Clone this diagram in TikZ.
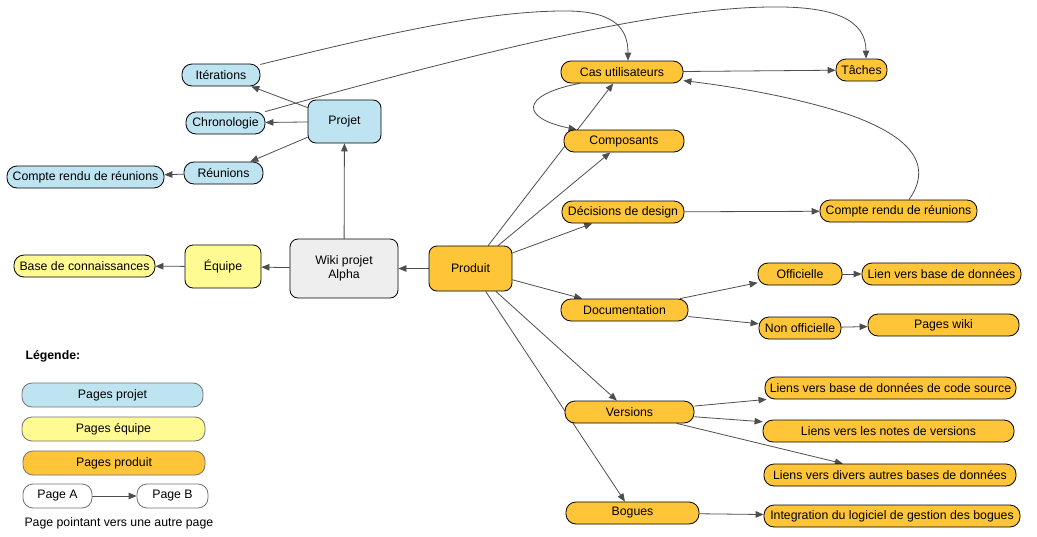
\documentclass[tikz,border=0pt]{standalone}
\usepackage{fontspec}
\setmainfont{Liberation Sans}
\usetikzlibrary{arrows.meta,calc}
\definecolor{pblue}{RGB}{190,228,242}
\definecolor{pyellow}{RGB}{255,250,145}
\definecolor{porange}{RGB}{255,197,57}
\definecolor{pgray}{RGB}{238,238,238}
\definecolor{linkc}{RGB}{78,78,78}
\definecolor{legborder}{RGB}{115,115,115}
\pgfdeclarelayer{back}
\pgfdeclarelayer{bg}
\pgfsetlayers{back,bg,main}
\begin{document}
\begin{tikzpicture}[x=1pt,y=-1pt,
  font=\fontsize{12.3}{14}\selectfont,
  pill/.style={draw=black, line width=0.8pt, rounded corners=10pt, inner sep=0pt, minimum height=22pt},
  bigbox/.style={draw=black, line width=0.8pt, rounded corners=8pt, inner sep=0pt, align=center},
  legbox/.style={draw=legborder, line width=0.8pt, rounded corners=10pt, inner sep=0pt, minimum height=24pt},
  link/.style={draw=linkc, line width=0.8pt, -{Triangle[length=8pt,width=6.5pt]}},
  bl/.style={fill=pblue}, ye/.style={fill=pyellow}, orr/.style={fill=porange}]
\begin{pgfonlayer}{back}
\fill[white] (0,0) rectangle (1037,536);
\end{pgfonlayer}
\useasboundingbox (0,0) rectangle (1037,536);

% project pages
\node[pill,bl,minimum width=78pt] (iter) at (221,75) {Itérations};
\node[pill,bl,minimum width=79pt] (chrono) at (225.5,123) {Chronologie};
\node[bigbox,bl,minimum width=73pt,minimum height=43pt] (projet) at (344.5,121.5) {Projet};
\node[pill,bl,minimum width=79pt] (reun) at (223.5,173) {Réunions};
\node[pill,bl,minimum width=157pt] (crL) at (85.5,177) {Compte rendu de réunions};
% team pages
\node[pill,ye,minimum width=141pt] (base) at (84.5,266) {Base de connaissances};
\node[bigbox,ye,minimum width=76pt,minimum height=43pt] (equipe) at (223,266.5) {Équipe};
% centre
\node[bigbox,fill=pgray,minimum width=108pt,minimum height=59pt] (wiki) at (344,268.5) {Wiki projet\\Alpha};
% product pages
\node[bigbox,orr,minimum width=83pt,minimum height=45pt] (produit) at (470.5,268.5) {Produit};
\node[pill,orr,minimum width=122pt] (cas) at (622,72) {Cas utilisateurs};
\node[pill,orr,minimum width=51pt] (taches) at (861.5,70) {Tâches};
\node[pill,orr,minimum width=120pt] (comp) at (624,141) {Composants};
\node[pill,orr,minimum width=122pt] (dec) at (623,212) {Décisions de design};
\node[pill,orr,minimum width=157pt] (crR) at (898.5,211) {Compte rendu de réunions};
\node[pill,orr,minimum width=84pt] (off) at (800,274) {Officielle};
\node[pill,orr,minimum width=159pt] (lien) at (941.5,274) {Lien vers base de données};
\node[pill,orr,minimum width=127pt] (doc) at (624.5,310) {Documentation};
\node[pill,orr,minimum width=82pt] (nonoff) at (800,328) {Non officielle};
\node[pill,orr,minimum width=151pt] (wikip) at (943.5,325) {Pages wiki};
\node[pill,orr,minimum width=251pt] (lcode) at (890.5,388) {Liens vers base de données de code source};
\node[pill,orr,minimum width=129pt] (vers) at (629.5,412) {Versions};
\node[pill,orr,minimum width=251pt] (notes) at (888.5,431) {Liens vers les notes de versions};
\node[pill,orr,minimum width=252pt] (divers) at (890,475) {Liens vers divers autres bases de données};
\node[pill,orr,minimum width=133pt] (bogues) at (632.5,513) {Bogues};
\node[pill,orr,minimum width=256pt] (integ) at (892,516) {Integration du logiciel de gestion des bogues};

% legend
\node[anchor=west,font=\fontsize{12.3}{14}\selectfont\bfseries] (legt) at (22,356) {Légende:};
\node[legbox,bl,minimum width=181pt] (leg1) at (112.5,395) {Pages projet};
\node[legbox,ye,minimum width=183pt] (leg2) at (113.5,429) {Pages équipe};
\node[legbox,orr,minimum width=182pt] (leg3) at (114,463) {Pages produit};
\node[legbox,fill=white,minimum width=69pt] (pageA) at (57.5,496) {Page A};
\node[legbox,fill=white,minimum width=71pt] (pageB) at (172.5,496) {Page B};
\node[anchor=west] (cap) at (21,523) {Page pointant vers une autre page};

\begin{pgfonlayer}{bg}
\draw[link] (wiki) -- (projet);
\draw[link] (wiki) -- (equipe);
\draw[link] (equipe) -- (base);
\draw[link] (produit) -- (wiki);
\draw[link] (projet) -- (iter);
\draw[link] (projet) -- (chrono);
\draw[link] (projet) -- (reun);
\draw[link] (reun) -- (crL);
\draw[link] (produit) -- (cas);
\draw[link] (produit) -- (comp);
\draw[link] (produit) -- (dec);
\draw[link] (produit) -- (doc);
\draw[link] (produit) -- (vers);
\draw[link] (produit) -- (bogues);
\draw[link] (cas) -- (taches);
\draw[link] (dec) -- (crR);
\draw[link] (doc) -- (off);
\draw[link] (doc) -- (nonoff);
\draw[link] (off) -- (lien);
\draw[link] (nonoff) -- (wikip);
\draw[link] (vers) -- (lcode);
\draw[link] (vers) -- (notes);
\draw[link] (vers) -- (divers);
\draw[link] (bogues) -- (integ);
\draw[link] (pageA) -- (pageB);
% curved links
\draw[link] (iter.15) .. controls (380,35) and (480,12) .. (560,11)
  .. controls (610,10) and (628,25) .. ($(cas.north)+(6,0)$);
\draw[link] (chrono.16) .. controls (450,60) and (650,8) .. (770,7)
  .. controls (835,6) and (866,20) .. ($(taches.north)+(4.5,0)$);
\draw[link] ($(crR.north)+(10.5,0)$) .. controls (930,170) and (920,140) .. (850,115)
  .. controls (790,95) and (720,85) .. (cas.-8);
\draw[link] ($(cas.south west)+(19,0)$) .. controls (520,95) and (520,118) .. ($(comp.north west)+(13,0)$);
\end{pgfonlayer}
\end{tikzpicture}
\end{document}
